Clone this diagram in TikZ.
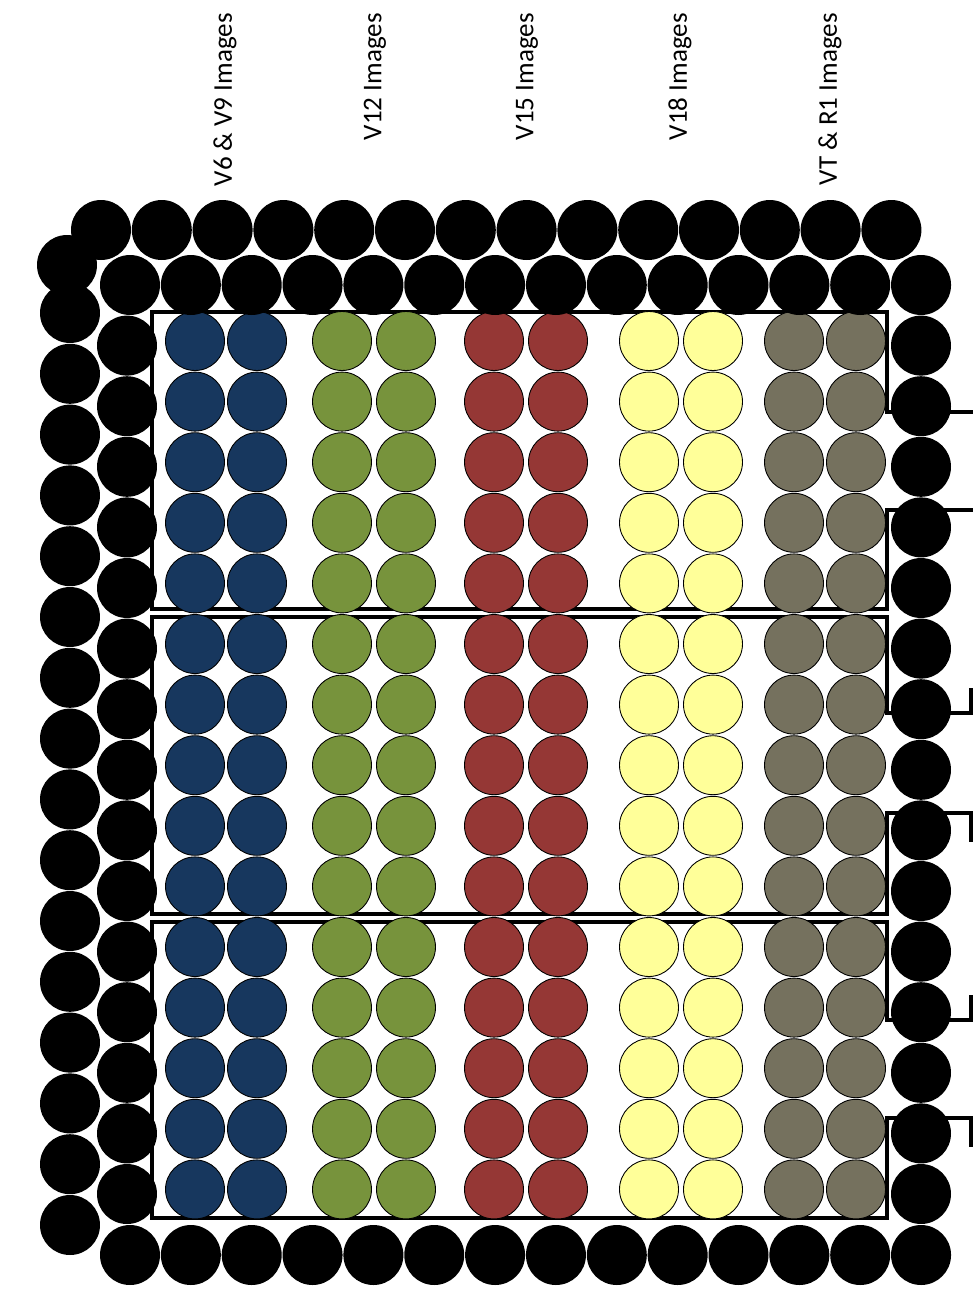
\documentclass[tikz,border=0pt]{standalone}
\usepackage{fontspec}
\setmainfont{Carlito}
\usetikzlibrary{positioning}
\definecolor{vblue}{RGB}{23,55,94}
\definecolor{vgreen}{RGB}{119,147,60}
\definecolor{vred}{RGB}{149,55,53}
\definecolor{vyellow}{RGB}{255,255,153}
\definecolor{vgray}{RGB}{117,113,94}
\tikzset{
  well/.style={circle, draw=black, line width=0.5pt, inner sep=0pt, minimum size=1.18cm},
  plug/.style={circle, fill=black, inner sep=0pt, minimum size=1.2cm},
  frame/.style={black, line width=2.3pt},
  lbl/.style={rotate=90, anchor=east, inner sep=0pt, font=\fontsize{15.4}{18}\selectfont},
}

\begin{document}
\begin{tikzpicture}[x=0.02cm, y=-0.02cm]
  \useasboundingbox (0,0) rectangle (973,1299);
  % column labels
  \foreach \x/\t [count=\i] in {225/V6 \& V9 Images, 375/V12 Images, 527/V15 Images,
                                680/V18 Images, 830/VT \& R1 Images}
    \node[lbl] (lab\i) at (\x,13) {\t};
  % the three trays, open to the right
  \draw[frame] (973,412) -- (887,412) -- (887,312) -- (152,312) -- (152,609)
    -- (887,609) -- (887,510) -- (973,510);
  \draw[frame] (971,688) -- (971,713) -- (887,713) -- (887,617) -- (152,617) -- (152,914)
    -- (887,914) -- (887,813) -- (971,813) -- (971,842);
  \draw[frame] (971,995) -- (971,1020) -- (887,1020) -- (887,922) -- (152,922) -- (152,1218)
    -- (887,1218) -- (887,1118) -- (971,1118) -- (971,1147);
  % sample wells
  \foreach \x/\c in {195/vblue,257/vblue,342/vgreen,406/vgreen,494/vred,558/vred,
                     649/vyellow,713/vyellow,794/vgray,856/vgray}
    \foreach \r in {0,...,14}
      \node[well, fill=\c] (w\x-\r) at (\x,341+60.6*\r) {};
  % outer row and column
  \foreach \i in {0,...,13}
    \node[plug] (o\i) at (101+60.8*\i,230) {};
  \node[plug] (l0) at (67,265) {};
  \foreach \i in {1,...,16}
    \node[plug] (l\i) at (70,313+60.8*\i-60.8) {};
  % inner ring
  \foreach \i in {0,...,13}{
    \node[plug] (n\i) at (130+60.85*\i,285) {};
    \node[plug] (s\i) at (130+60.85*\i,1255) {};
  }
  \foreach \j in {1,...,15}{
    \node[plug] (a\j) at (127,285+60.6*\j) {};
    \node[plug] (b\j) at (921,285+60.6*\j) {};
  }
\end{tikzpicture}
\end{document}
